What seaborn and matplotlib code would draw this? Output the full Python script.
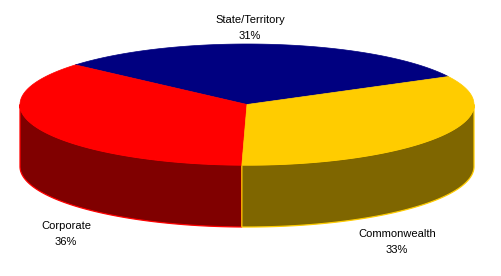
import numpy as np
import matplotlib
matplotlib.use("Agg")
import matplotlib.pyplot as plt
import seaborn as sns
from matplotlib.patches import Polygon

# ---- data ----
categories = ["State/Territory", "Corporate", "Commonwealth"]
values = [31, 36, 33]
top_colors = ["#000080", "#FF0000", "#FFCC00"]
side_colors = ["#000040", "#800000", "#7F6600"]

sns.set_theme(style="white")
plt.rcParams["font.family"] = ["Liberation Sans", "DejaVu Sans"]

W, H = 501, 276
fig = plt.figure(figsize=(W / 100, H / 100), dpi=100)
ax = fig.add_axes([0, 0, 1, 1])
ax.set_xlim(0, W)
ax.set_ylim(H, 0)
ax.axis("off")

# geometry (layout)
cx, cy, a, b, depth = 247.0, 104.5, 227.0, 60.5, 62.0
start_angle = 27.5


def pt(theta_deg, dz=0.0):
    t = np.radians(theta_deg)
    return cx + a * np.cos(t), cy - b * np.sin(t) + dz


fractions = np.array(values, dtype=float) / np.sum(values)
bounds = start_angle + 360 * np.concatenate([[0], np.cumsum(fractions)])

# side walls (front half only: angles 180..360)
for i in range(len(values)):
    t1, t2 = bounds[i], bounds[i + 1]
    for shift in (-360, 0, 360):
        s1, s2 = max(t1 + shift, 180), min(t2 + shift, 360)
        if s2 > s1:
            ts = np.linspace(s1, s2, 200)
            top = [pt(t) for t in ts]
            bot = [pt(t, depth) for t in ts[::-1]]
            poly = Polygon(top + bot, closed=True, facecolor=side_colors[i],
                           edgecolor=top_colors[i], linewidth=0.9, zorder=2)
            ax.add_patch(poly)

# top faces
for i in range(len(values)):
    t1, t2 = bounds[i], bounds[i + 1]
    ts = np.linspace(t1, t2, 300)
    pts = [(cx, cy)] + [pt(t) for t in ts]
    poly = Polygon(pts, closed=True, facecolor=top_colors[i],
                   edgecolor=top_colors[i], linewidth=0.5, zorder=3)
    ax.add_patch(poly)

# labels (layout positions)
label_pos = [(250, 28), (66, 234), (397, 242)]
for i, (lx, ly) in enumerate(label_pos):
    ax.text(lx, ly, f"{categories[i]}\n{values[i]}%", ha="center", va="center",
            fontsize=8, color="black", linespacing=1.65, zorder=5)

fig.savefig("out.png", dpi=100, facecolor="white")
